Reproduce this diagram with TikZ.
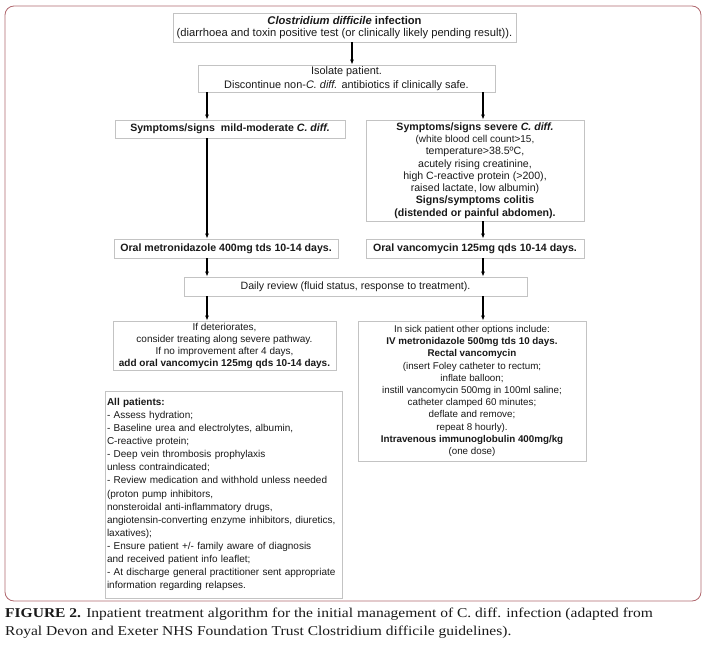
\documentclass[tikz,border=0pt]{standalone}
\usepackage{fontspec}
\setmainfont{Liberation Sans}
\newfontfamily\capfont[FakeStretch=1.15]{Liberation Serif}
\usetikzlibrary{arrows.meta}
\definecolor{framered}{RGB}{176,104,110}
\definecolor{boxgray}{RGB}{195,195,195}
\definecolor{txt}{RGB}{25,25,25}
\begin{document}
\begin{tikzpicture}[x=1pt, y=-1pt, >={Latex[length=5pt,width=4pt]},
  box/.style={draw=boxgray, line width=0.8pt, inner sep=0pt, align=center, text=txt, font=\fontsize{10.6}{12.3}\selectfont},
  arr/.style={->, line width=1.5pt}]
\useasboundingbox (0,0) rectangle (707,645);
\draw[framered, line width=0.8pt, rounded corners=9pt] (5,6) rectangle (701,601);
\coordinate (mid) at (352,0);\coordinate (lft) at (207,0);\coordinate (rgt) at (483,0);
\node[box, minimum width=343pt, minimum height=29pt, font=\fontsize{11.2}{11.8}\selectfont] (infect) at (344.5,27.5) {\textbf{\textit{Clostridium difficile} infection}\\(diarrhoea and toxin positive test (or clinically likely pending result)).};
\node[box, minimum width=297pt, minimum height=27pt, font=\fontsize{10.9}{13.5}\selectfont] (isolate) at (346.5,78.5) {Isolate patient.\\Discontinue non-\textit{C. diff.} antibiotics if clinically safe.};
\node[box, minimum width=230pt, minimum height=18pt] (mild) at (230,129) {\textbf{Symptoms/signs\ \ mild-moderate \textit{C. diff.}}};
\node[box, minimum width=218pt, minimum height=101pt] (severe) at (475,170.5) {\textbf{Symptoms/signs severe \textit{C. diff.}}\\\fontsize{10}{12.3}\selectfont(white blood cell count>15,\\temperature>38.5ºC,\\acutely rising creatinine,\\high C-reactive protein (>200),\\raised lactate, low albumin)\\\textbf{Signs/symptoms colitis}\\\textbf{(distended or painful abdomen).}};
\node[box, minimum width=224pt, minimum height=19pt] (metro) at (226,248.5) {\textbf{Oral metronidazole 400mg tds 10-14 days.}};
\node[box, minimum width=218pt, minimum height=19pt] (vanc) at (475,248.5) {\textbf{Oral vancomycin 125mg qds 10-14 days.}};
\node[box, minimum width=343pt, minimum height=19pt] (daily) at (355.5,286.5) {Daily review (fluid status, response to treatment).};
\node[box, minimum width=223pt, minimum height=49pt, font=\fontsize{10}{12}\selectfont] (deter) at (224.5,345.5) {If deteriorates,\\consider treating along severe pathway.\\If no improvement after 4 days,\\\textbf{add oral vancomycin 125mg qds 10-14 days.}};
\node[box, minimum width=228pt, minimum height=140pt, font=\fontsize{9.8}{12.2}\selectfont] (sick) at (472,391) {In sick patient other options include:\\\textbf{IV metronidazole 500mg tds 10 days.}\\\textbf{Rectal vancomycin}\\(insert Foley catheter to rectum;\\inflate balloon;\\instill vancomycin 500mg in 100ml saline;\\catheter clamped 60 minutes;\\deflate and remove;\\repeat 8 hourly).\\\textbf{Intravenous immunoglobulin 400mg/kg}\\(one dose)};
\node[box, minimum width=237pt, minimum height=207pt, text width=233pt, align=left, font=\fontsize{10}{13.1}\selectfont] (allpat) at (223.5,494.5) {\textbf{All patients:}\\- Assess hydration;\\- Baseline urea and electrolytes, albumin,\\C-reactive protein;\\- Deep vein thrombosis prophylaxis\\unless contraindicated;\\- Review medication and withhold unless needed\\(proton pump inhibitors,\\nonsteroidal anti-inflammatory drugs,\\angiotensin-converting enzyme inhibitors, diuretics,\\laxatives);\\- Ensure patient +/- family aware of diagnosis\\and received patient info leaflet;\\- At discharge general practitioner sent appropriate\\information regarding relapses.};
\draw[arr, line width=2pt] (infect.south -| mid) -- (isolate.north -| mid);
\draw[arr] (isolate.south -| lft) -- (mild.north -| lft);\draw[arr] (isolate.south -| rgt) -- (severe.north -| rgt);
\draw[arr] (mild.south -| lft) -- (metro.north -| lft);\draw[arr] (severe.south -| rgt) -- (vanc.north -| rgt);
\draw[arr] (metro.south -| lft) -- (daily.north -| lft);\draw[arr] (vanc.south -| rgt) -- (daily.north -| rgt);
\draw[arr] (daily.south -| lft) -- (deter.north -| lft);\draw[arr] (daily.south -| rgt) -- (sick.north -| rgt);
\node[anchor=north west, align=left, inner sep=0pt, text=txt, font=\capfont\fontsize{13.5}{18}\selectfont] (caption) at (5,608) {\textbf{FIGURE 2.} Inpatient treatment algorithm for the initial management of C. diff. infection (adapted from\\Royal Devon and Exeter NHS Foundation Trust Clostridium difficile guidelines).};
\end{tikzpicture}
\end{document}
